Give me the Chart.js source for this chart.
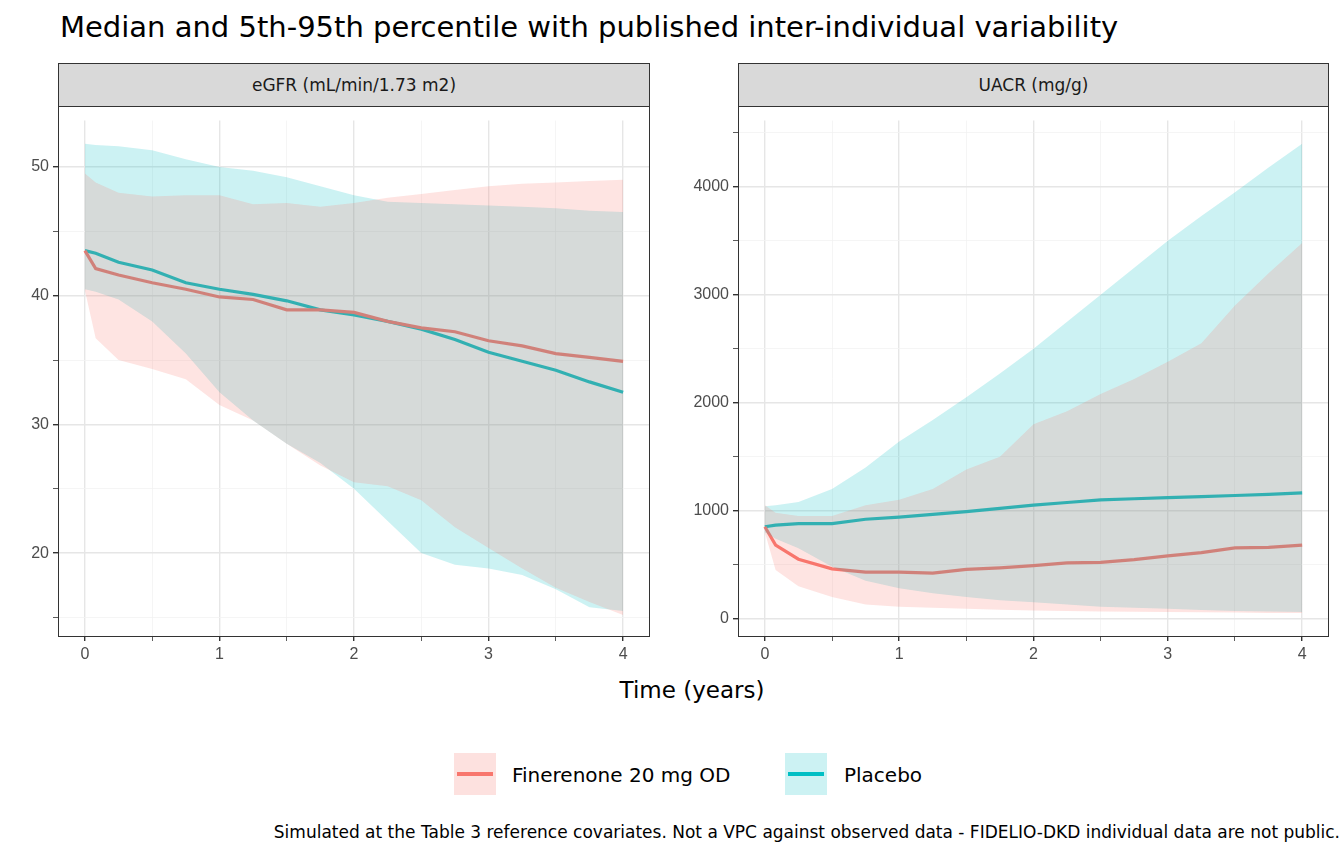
<!DOCTYPE html>
<html>
<head>
<meta charset="utf-8">
<script src="https://cdn.jsdelivr.net/npm/chart.js@4"></script>
<style>
  body { margin: 0; width: 1344px; height: 864px; background: #fff; position: relative; overflow: hidden; font-family: "DejaVu Sans", sans-serif; }
  .abs { position: absolute; }
  .strip { background: #d9d9d9; border: 1px solid #333; box-sizing: border-box; text-align: center; font-size: 17px; color: #1a1a1a; line-height: 42px; }
  .box { border: 1px solid #333; box-sizing: border-box; pointer-events: none; }
  .key { width: 42px; height: 42px; }
  .key div { position: absolute; left: 3px; right: 3px; top: 19px; height: 4px; }
</style>
</head>
<body>
<div class="abs" style="left:60px;top:10px;font-size:29px;white-space:nowrap;color:#000">Median and 5th-95th percentile with published inter-individual variability</div>

<div class="abs strip" style="left:58px;top:63px;width:592px;height:44px">eGFR (mL/min/1.73 m2)</div>
<div class="abs strip" style="left:738px;top:63px;width:591px;height:44px">UACR (mg/g)</div>

<div class="abs" style="left:0;top:107px;width:650px;height:560px"><canvas id="left"></canvas></div>
<div class="abs" style="left:680px;top:107px;width:649px;height:560px"><canvas id="right"></canvas></div>
<div class="abs box" style="left:58px;top:106px;width:592px;height:531px"></div>
<div class="abs box" style="left:738px;top:106px;width:591px;height:531px"></div>

<div class="abs" style="left:0;width:1384px;top:677px;text-align:center;font-size:23px">Time (years)</div>

<div class="abs key" style="left:454px;top:753px;background:rgba(248,118,109,0.22)"><div style="background:#F8766D"></div></div>
<div class="abs" style="left:512px;top:763px;font-size:20px">Finerenone 20 mg OD</div>
<div class="abs key" style="left:785px;top:753px;background:rgba(0,191,196,0.2)"><div style="background:#00BFC4"></div></div>
<div class="abs" style="left:844px;top:763px;font-size:20px">Placebo</div>

<div class="abs" style="left:-290px;width:1630px;top:822px;text-align:right;font-size:17px;white-space:nowrap">Simulated at the Table 3 reference covariates. Not a VPC against observed data - FIDELIO-DKD individual data are not public.</div>

<script>
const times = [0, 0.08, 0.25, 0.5, 0.75, 1, 1.25, 1.5, 1.75, 2, 2.25, 2.5, 2.75, 3, 3.25, 3.5, 3.75, 4]

// eGFR
const egfrFinMed = [43.5, 42.1, 41.6, 41.0, 40.5, 39.9, 39.7, 38.9, 38.9, 38.7, 38.0, 37.5, 37.2, 36.5, 36.1, 35.5, 35.2, 34.9]
const egfrFinLo  = [40.4, 36.7, 35.0, 34.3, 33.5, 31.5, 30.3, 28.5, 26.8, 25.5, 25.2, 24.1, 22.0, 20.4, 18.8, 17.3, 16.2, 15.2]
const egfrFinHi  = [49.5, 48.8, 48.0, 47.7, 47.8, 47.8, 47.1, 47.2, 46.9, 47.2, 47.6, 47.9, 48.2, 48.5, 48.7, 48.8, 48.9, 49.0]
const egfrPlaMed = [43.5, 43.3, 42.6, 42.0, 41.0, 40.5, 40.1, 39.6, 38.9, 38.5, 38.0, 37.4, 36.6, 35.6, 34.9, 34.2, 33.3, 32.5]
const egfrPlaLo  = [40.5, 40.3, 39.7, 38.0, 35.5, 32.5, 30.3, 28.5, 27.0, 25.0, 22.5, 20.0, 19.1, 18.8, 18.3, 17.2, 15.8, 15.5]
const egfrPlaHi  = [51.8, 51.7, 51.6, 51.3, 50.6, 50.0, 49.7, 49.2, 48.5, 47.8, 47.3, 47.2, 47.1, 47.0, 46.9, 46.8, 46.6, 46.5]

// UACR
const uacrFinMed = [850, 680, 550, 460, 430, 430, 420, 455, 470, 490, 515, 520, 545, 580, 610, 655, 660, 680]
const uacrFinLo  = [800, 450, 300, 200, 130, 110, 100, 90, 82, 75, 70, 66, 63, 60, 57, 55, 52, 50]
const uacrFinHi  = [1050, 980, 950, 950, 1050, 1100, 1200, 1380, 1500, 1800, 1920, 2080, 2220, 2380, 2550, 2900, 3200, 3480]
const uacrPlaMed = [850, 865, 880, 880, 920, 940, 965, 990, 1020, 1050, 1075, 1100, 1110, 1120, 1130, 1140, 1150, 1165]
const uacrPlaLo  = [800, 740, 650, 480, 350, 280, 235, 200, 170, 150, 130, 110, 100, 90, 80, 70, 65, 60]
const uacrPlaHi  = [1040, 1050, 1080, 1200, 1400, 1640, 1840, 2050, 2270, 2500, 2750, 3000, 3250, 3500, 3730, 3950, 4180, 4400]

const red = "#F8766D", cyan = "#00BFC4"
const redBand = "rgba(248,118,109,0.2)", cyanBand = "rgba(0,191,196,0.2)"

function pts(vals) { return vals.map((v, i) => ({ x: times[i], y: v })) }

function band(lo, hi, color) {
  return [
    { data: pts(lo), borderWidth: 0, pointRadius: 0, fill: false, backgroundColor: color },
    { data: pts(hi), borderWidth: 0, pointRadius: 0, fill: "-1", backgroundColor: color },
  ]
}

function line(vals, color) {
  return { data: pts(vals), borderColor: color, borderWidth: 3.2, pointRadius: 0, fill: false }
}

function makeChart(id, sets, yMin, yMax, yStep, yMajor) {
  new Chart(document.getElementById(id), {
    type: "line",
    data: { datasets: sets },
    options: {
      animation: false,
      responsive: true,
      maintainAspectRatio: false,
      plugins: { legend: { display: false }, tooltip: { enabled: false } },
      layout: { padding: 0 },
      scales: {
        x: {
          type: "linear", min: -0.2, max: 4.2,
          afterBuildTicks: (s) => { s.ticks = [0, 0.5, 1, 1.5, 2, 2.5, 3, 3.5, 4].map(v => ({ value: v })) },
          afterFit: (s) => { s.height = 31 },
          ticks: { color: "#4d4d4d", font: { size: 16 }, padding: 4, callback: (v) => Number.isInteger(v) ? v : "" },
          grid: { color: (c) => Number.isInteger(c.tick.value) ? "#e6e6e6" : "#f2f2f2", lineWidth: (c) => Number.isInteger(c.tick.value) ? 1.4 : 0.8, tickLength: 5, tickColor: "#333" },
          border: { display: false },
        },
        y: {
          min: yMin, max: yMax,
          afterBuildTicks: (s) => {
            const t = []
            for (let v = Math.ceil(yMin / yStep) * yStep; v <= yMax; v += yStep) t.push({ value: v })
            s.ticks = t
          },
          afterFit: (s) => { s.width = 58 },
          ticks: { color: "#4d4d4d", font: { size: 16 }, padding: 4, callback: (v) => v % yMajor === 0 ? v : "" },
          grid: { color: (c) => c.tick.value % yMajor === 0 ? "#e6e6e6" : "#f2f2f2", lineWidth: (c) => c.tick.value % yMajor === 0 ? 1.4 : 0.8, tickLength: 5, tickColor: "#333" },
          border: { display: false },
        },
      },
    },
  })
}

makeChart("left", [
  ...band(egfrFinLo, egfrFinHi, redBand),
  ...band(egfrPlaLo, egfrPlaHi, cyanBand),
  line(egfrFinMed, red),
  line(egfrPlaMed, cyan),
], 13.56, 53.6, 5, 10)

makeChart("right", [
  ...band(uacrFinLo, uacrFinHi, redBand),
  ...band(uacrPlaLo, uacrPlaHi, cyanBand),
  line(uacrFinMed, red),
  line(uacrPlaMed, cyan),
], -162, 4614, 500, 1000)
</script>
</body>
</html>
